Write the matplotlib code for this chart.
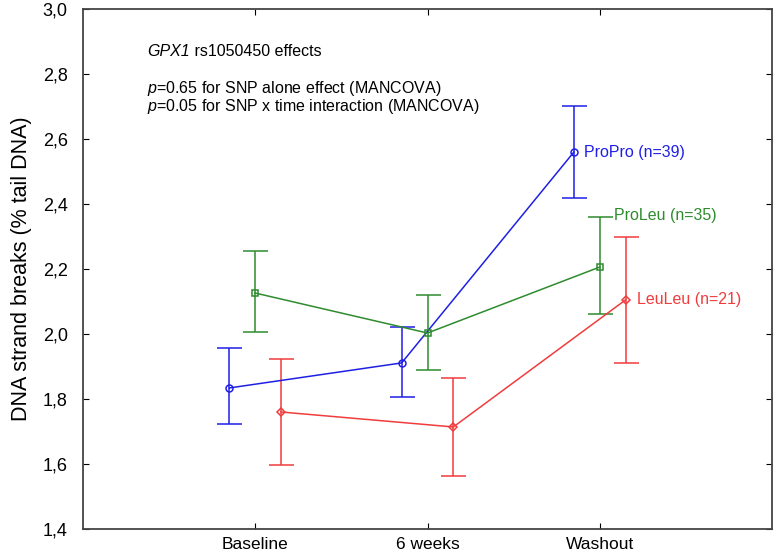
import numpy as np
import matplotlib
matplotlib.use("Agg")
import matplotlib.pyplot as plt
from matplotlib.ticker import FuncFormatter

plt.rcParams['font.family'] = ['Liberation Sans', 'DejaVu Sans']
plt.rcParams['mathtext.fontset'] = 'custom'
plt.rcParams['mathtext.rm'] = 'Liberation Sans'
plt.rcParams['mathtext.it'] = 'Liberation Sans:italic'

times = ['Baseline', '6 weeks', 'Washout']

# means and error bar limits
propro      = [1.834, 1.911, 2.560]
propro_lo   = [1.723, 1.806, 2.420]
propro_hi   = [1.957, 2.022, 2.700]

proleu      = [2.126, 2.003, 2.206]
proleu_lo   = [2.006, 1.889, 2.061]
proleu_hi   = [2.255, 2.120, 2.360]

leuleu      = [1.760, 1.714, 2.105]
leuleu_lo   = [1.597, 1.563, 1.911]
leuleu_hi   = [1.923, 1.865, 2.298]

labels = ['ProPro (n=39)', 'ProLeu (n=35)', 'LeuLeu (n=21)']

fig = plt.figure(figsize=(7.74, 5.54), dpi=100)
ax = fig.add_axes([83/774, 1 - 529/554, (772-83)/774, (529-9)/554])

x = np.arange(1, len(times) + 1)
series = [
    (propro, propro_lo, propro_hi, -0.15, '#1f1fe6', 'o', labels[0], (7, 0)),
    (proleu, proleu_lo, proleu_hi, 0.0, '#2e8b2e', 's', labels[1], (10, 1)),
    (leuleu, leuleu_lo, leuleu_hi, 0.15, '#f03c3c', 'D', labels[2], (8, 0)),
]

for m, lo, hi, off, col, mk, lab, shift in series:
    m = np.array(m); lo = np.array(lo); hi = np.array(hi)
    xs = x + off
    ax.errorbar(xs, m, yerr=[m - lo, hi - m], color=col, lw=1.1,
                marker=mk, ms=5 if mk != 'D' else 4, mfc='none', mec=col,
                mew=1.1, capsize=9, capthick=1.1, elinewidth=1.1)
    yref = hi[-1] if lab.startswith('ProLeu') else m[-1]
    ax.annotate(lab, (xs[-1], yref), xytext=shift, textcoords='offset points',
                color=col, fontsize=11.5, va='center', ha='left')

ax.set_xlim(0, 4)
ax.set_ylim(1.4, 3.0)
ax.set_xticks(x)
ax.set_xticklabels(times, fontsize=12.5)
ax.set_yticks(np.arange(1.4, 3.01, 0.2))
ax.yaxis.set_major_formatter(FuncFormatter(lambda v, p: ('%.1f' % v).replace('.', ',')))
ax.tick_params(axis='y', labelsize=13, direction='in', length=4, right=True, pad=11)
ax.tick_params(axis='x', direction='in', length=4, top=True, pad=6)
ax.set_ylabel('DNA strand breaks (% tail DNA)', fontsize=15.5, labelpad=8)
for s in ax.spines.values():
    s.set_color('#444444')
    s.set_linewidth(1.3)

t1 = ax.text(0.373, 2.87, 'GPX1', fontsize=11.5, style='italic', va='center', ha='left')
ax.annotate(' rs1050450 effects', xy=(1, 0.5), xycoords=t1, fontsize=11.5,
            va='center', ha='left')
ax.text(0.373, 2.755, r'$p$=0.65 for SNP alone effect (MANCOVA)', fontsize=11.5, va='center', ha='left')
ax.text(0.373, 2.70, r'$p$=0.05 for SNP x time interaction (MANCOVA)', fontsize=11.5, va='center', ha='left')

fig.savefig('out.png', dpi=100)
